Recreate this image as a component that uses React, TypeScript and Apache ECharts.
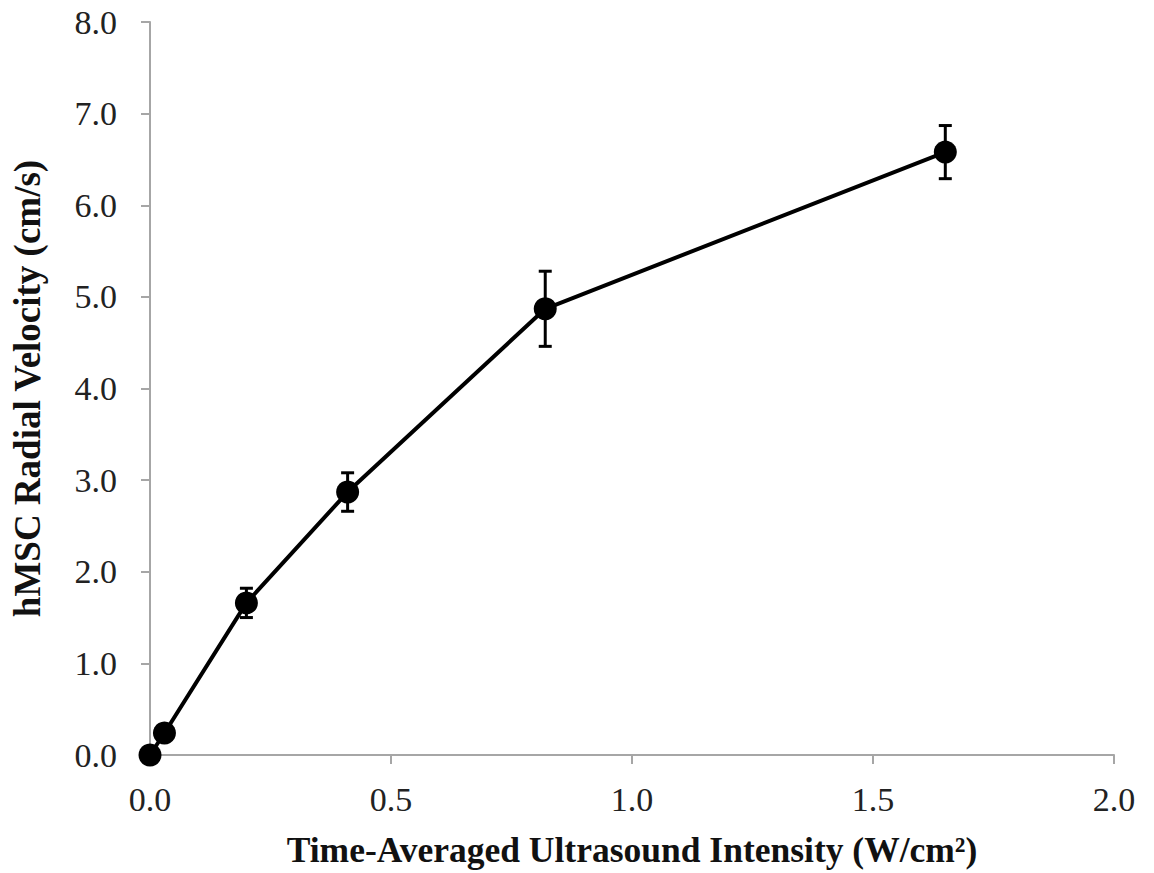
import React, { useEffect, useRef } from "react";
import * as echarts from "echarts";

const intensity = [0, 0.03, 0.2, 0.41, 0.82, 1.65];
const velocity = [0, 0.24, 1.66, 2.87, 4.87, 6.58];
const errors = [0, 0, 0.16, 0.21, 0.41, 0.29];

const xTitle = "Time-Averaged Ultrasound Intensity (W/cm²)";
const yTitle = "hMSC Radial Velocity (cm/s)";

const FONT = "'Liberation Serif', 'Times New Roman', serif";

export default function App() {
  const ref = useRef<HTMLDivElement>(null);
  useEffect(() => {
    document.body.style.margin = "0";
    const chart = echarts.init(ref.current!, null, { renderer: "svg" });
    const lineData = intensity.map((x, i) => [x, velocity[i]]);
    const errData = intensity
      .map((x, i) => [x, velocity[i], errors[i]])
      .filter((d) => d[2] > 0);
    chart.setOption({
      animation: false,
      backgroundColor: "#ffffff",
      grid: { left: 150, right: 40, top: 22, bottom: 118, containLabel: false },
      xAxis: {
        type: "value",
        min: 0,
        max: 2,
        interval: 0.5,
        name: xTitle,
        nameLocation: "middle",
        nameGap: 77,
        nameTextStyle: { fontFamily: FONT, fontSize: 35.5, fontWeight: "bold", color: "#111" },
        axisLine: { show: true, lineStyle: { color: "#a6a6a6", width: 2 } },
        axisTick: { show: true, length: 9, inside: false, lineStyle: { color: "#a6a6a6", width: 2 } },
        axisLabel: {
          fontFamily: FONT,
          fontSize: 34,
          color: "#222",
          margin: 27,
          formatter: (v: number) => v.toFixed(1),
        },
        splitLine: { show: false },
      },
      yAxis: {
        type: "value",
        min: 0,
        max: 8,
        interval: 1,
        name: yTitle,
        nameLocation: "middle",
        nameGap: 104,
        nameTextStyle: { fontFamily: FONT, fontSize: 37, fontWeight: "bold", color: "#111" },
        axisLine: { show: true, lineStyle: { color: "#a6a6a6", width: 2 } },
        axisTick: { show: true, length: 9, inside: false, lineStyle: { color: "#a6a6a6", width: 2 } },
        axisLabel: {
          fontFamily: FONT,
          fontSize: 34,
          color: "#222",
          margin: 33,
          formatter: (v: number) => v.toFixed(1),
        },
        splitLine: { show: false },
      },
      series: [
        {
          type: "line",
          data: lineData,
          lineStyle: { color: "#000", width: 4 },
          itemStyle: { color: "#000" },
          symbol: "circle",
          symbolSize: 23,
          z: 3,
        },
        {
          type: "custom",
          data: errData,
          z: 4,
          renderItem: (params: any, api: any) => {
            const x = api.value(0);
            const y = api.value(1);
            const e = api.value(2);
            const top = api.coord([x, y + e]);
            const bot = api.coord([x, y - e]);
            const hw = 6.5;
            const style = { stroke: "#000", lineWidth: 3 };
            return {
              type: "group",
              children: [
                { type: "line", shape: { x1: top[0], y1: top[1], x2: bot[0], y2: bot[1] }, style },
                { type: "line", shape: { x1: top[0] - hw, y1: top[1], x2: top[0] + hw, y2: top[1] }, style },
                { type: "line", shape: { x1: bot[0] - hw, y1: bot[1], x2: bot[0] + hw, y2: bot[1] }, style },
              ],
            };
          },
        },
      ],
    });
    return () => chart.dispose();
  }, []);
  return (
    <div
      ref={ref}
      style={{ width: 1154, height: 873, position: "absolute", left: 0, top: 0 }}
    />
  );
}
